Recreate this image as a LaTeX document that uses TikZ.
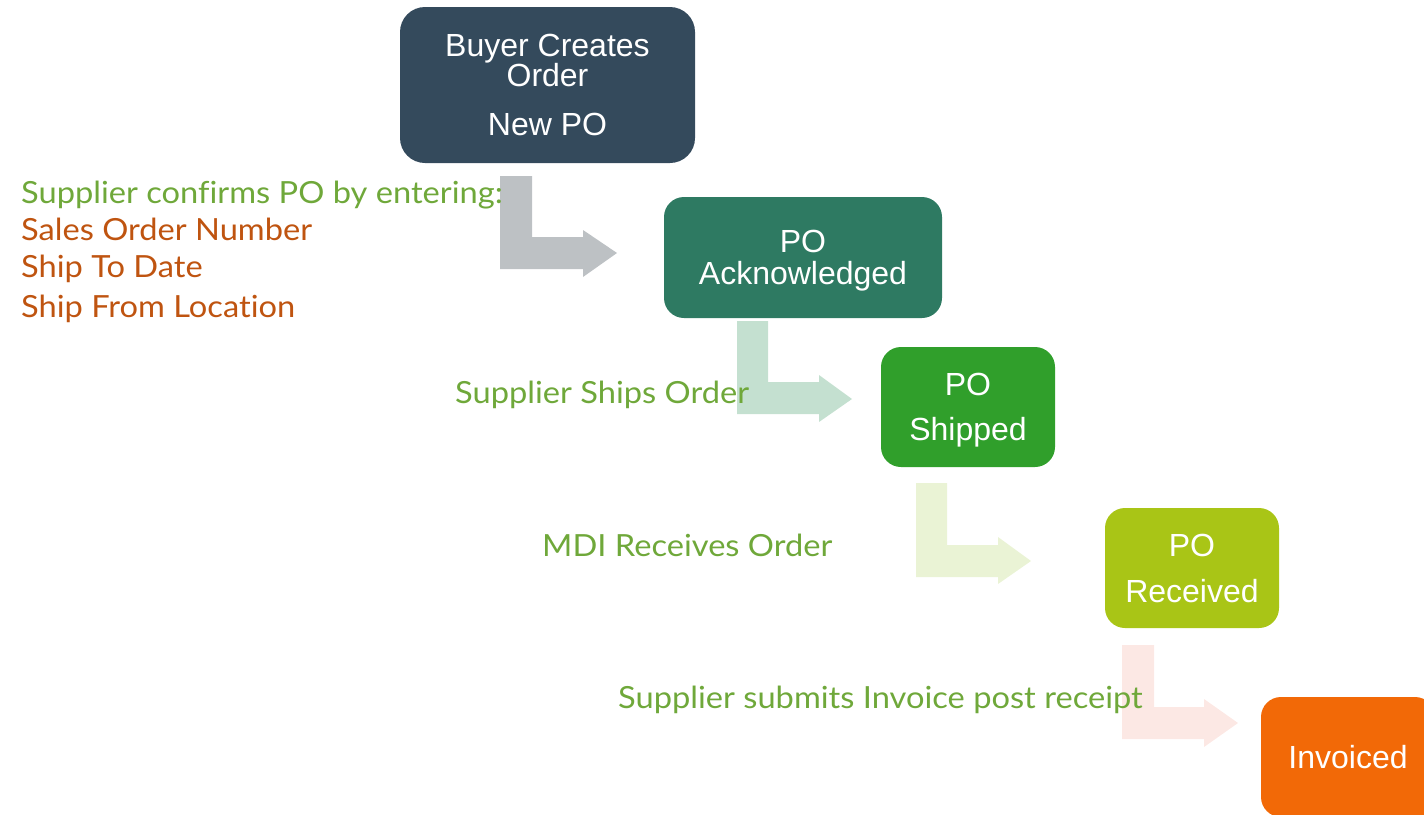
\documentclass[tikz,border=0pt]{standalone}
\usepackage{fontspec}
\setmainfont{Liberation Sans}
\newfontfamily\labelfont[FakeStretch=1.07,Ligatures={NoCommon,NoRare,NoContextual}]{Lato}
\definecolor{boxA}{HTML}{344A5C}
\definecolor{boxB}{HTML}{2E7A62}
\definecolor{boxC}{HTML}{309F2B}
\definecolor{boxD}{HTML}{A9C516}
\definecolor{boxE}{HTML}{F26907}
\definecolor{lblgreen}{HTML}{6FA83A}
\definecolor{lblorange}{HTML}{BF5410}
\definecolor{arrA}{HTML}{BDC1C4}
\definecolor{arrB}{HTML}{C4E0D0}
\definecolor{arrC}{HTML}{EAF3D5}
\definecolor{arrD}{HTML}{FCE8E4}
\tikzset{
  stage/.style={rounded corners=20pt, inner sep=0pt, align=center, text=white,
    text depth=0pt, font=\fontsize{32}{32}\selectfont},
  lbl/.style={anchor=west, inner sep=0pt, text depth=0pt, font=\labelfont\fontsize{30.5}{32}\selectfont}
}
\begin{document}
\begin{tikzpicture}[x=1pt,y=-1pt]
\useasboundingbox (0,0) rectangle (1424,814);
\begin{scope}
\clip (0,0) rectangle (1424,814);
% block arrows
\fill[arrA] (500,176) -- (532,176) -- (532,237) -- (583,237) -- (583,230) -- (617,253) -- (583,277) -- (583,269) -- (500,269) -- cycle;
\fill[arrB] (737,321) -- (768,321) -- (768,382) -- (819,382) -- (819,375) -- (852,399) -- (819,422) -- (819,414) -- (737,414) -- cycle;
\fill[arrC] (916,483) -- (947,483) -- (947,545) -- (998,545) -- (998,537) -- (1031,561) -- (998,584) -- (998,577) -- (916,577) -- cycle;
\fill[arrD] (1122,645) -- (1154,645) -- (1154,707) -- (1204,707) -- (1204,699) -- (1238,723) -- (1204,747) -- (1204,739) -- (1122,739) -- cycle;
% stages
\node[stage, fill=boxA, rounded corners=25pt, minimum width=295pt, minimum height=156pt,
  text depth=-3pt, font=\fontsize{32}{30}\selectfont] (buyer) at (547.5,85)
  {Buyer Creates\\Order\\[19pt]New PO};
\node[stage, fill=boxB, minimum width=278pt, minimum height=121pt] (ack) at (803,257.5)
  {PO\\Acknowledged};
\node[stage, fill=boxC, minimum width=174pt, minimum height=120pt, font=\fontsize{32}{45}\selectfont] (shipped) at (968,407)
  {PO\\Shipped};
\node[stage, fill=boxD, minimum width=174pt, minimum height=120pt, font=\fontsize{32}{46}\selectfont] (received) at (1192,568)
  {PO\\Received};
\node[stage, fill=boxE, minimum width=174pt, minimum height=120pt] (invoiced) at (1348,757)
  {Invoiced};
\end{scope}
% labels
\node[lbl, text=lblgreen] (l1) at (21,192) {Supplier confirms PO by entering:};
\node[lbl, text=lblorange] (l2) at (21,229) {Sales Order Number};
\node[lbl, text=lblorange] (l3) at (21,266) {Ship To Date};
\node[lbl, text=lblorange] (l4) at (21,306) {Ship From Location};
\node[lbl, text=lblgreen] (l5) at (455,392) {Supplier Ships Order};
\node[lbl, text=lblgreen] (l6) at (542,545) {MDI Receives Order};
\node[lbl, text=lblgreen] (l7) at (618,697) {Supplier submits Invoice post receipt};
\end{tikzpicture}
\end{document}
